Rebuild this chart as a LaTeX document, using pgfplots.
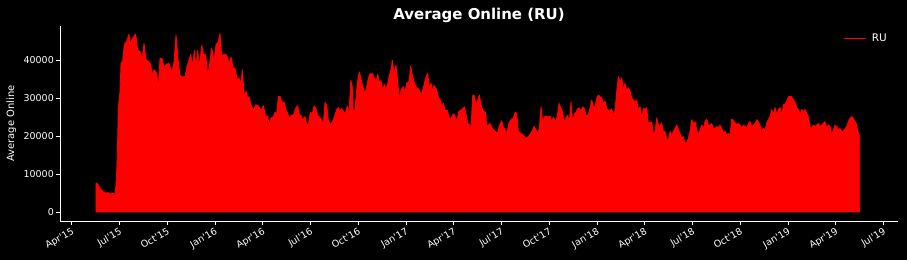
\documentclass[border=0pt]{standalone}
\usepackage{pgfplots}
\pgfplotsset{compat=1.18}
\usepackage{fontspec}
\setmainfont{DejaVu Sans}[Ligatures=TeXOff]
\begin{document}
\begin{tikzpicture}
\fill[black] (-60bp,-39bp) rectangle (847bp,221bp);
\begin{axis}[
  scale only axis, width=838bp, height=195bp,
  xmin=2.265, xmax=54.92, ymin=-2370, ymax=48950,
  axis x line*=bottom, axis y line*=left,
  axis line style={white, line width=0.6pt, -},
  tick align=outside, major tick length=4bp,
  tick style={white, line width=0.6pt},
  xtick={3,6,...,54},
  xticklabels={Apr'15,Jul'15,Oct'15,Jan'16,Apr'16,Jul'16,Oct'16,Jan'17,Apr'17,Jul'17,Oct'17,Jan'18,Apr'18,Jul'18,Oct'18,Jan'19,Apr'19,Jul'19},
  ytick={0,10000,20000,30000,40000},
  scaled y ticks=false,
  /pgf/number format/.cd, fixed, 1000 sep={}, assume math mode=true,
  /pgfplots/.cd,
  tick label style={font=\fontsize{9.5}{11}\selectfont, text=white},
  xticklabel style={rotate=30, anchor=north east, inner sep=1.5bp},
  yticklabel style={inner sep=2bp},
  ylabel={Average Online},
  ylabel shift=2bp,
  ylabel style={font=\fontsize{10}{12}\selectfont, text=white},
  title={Average Online (RU)},
  title style={font=\fontsize{15}{18}\selectfont\bfseries, text=white, yshift=-6bp},
  legend style={at={(1,1)}, anchor=north east, xshift=-6bp, yshift=-4bp, draw=none, fill=black, text=white, font=\fontsize{10.5}{12}\selectfont},
]
\addplot[draw=red, fill=red, line width=0.8pt, line join=round,
  legend image code/.code={\draw[red, line width=1.5pt] (0bp,0bp) -- (22bp,0bp); \path (26bp,0bp);}]
coordinates {
(4.527,7600)(4.621,7500)(4.778,6200)(4.986,5350)(5.155,5000)(5.281,5100)(5.407,4800)(5.595,4900)(5.721,4700)(5.784,7100)
(5.865,14200)(5.928,27400)(6.035,31700)(6.098,39100)(6.205,39700)(6.305,44100)(6.456,44900)(6.601,46800)(6.695,44000)(6.770,45300)
(6.871,46000)(7.022,46800)(7.147,42600)(7.292,42300)(7.436,40200)(7.543,44400)(7.669,40000)(7.813,39700)(7.964,38900)(8.065,36000)
(8.172,37500)(8.341,36500)(8.442,32500)(8.549,40400)(8.674,40400)(8.800,38200)(8.970,38900)(9.114,39100)(9.284,36900)(9.428,39400)
(9.554,46600)(9.680,40400)(9.805,36000)(9.931,35600)(10.120,35600)(10.226,38000)(10.352,39700)(10.478,41500)(10.603,38200)(10.704,42600)
(10.811,38200)(10.918,42600)(11.018,38200)(11.169,43900)(11.295,41300)(11.420,41500)(11.546,36000)(11.647,38400)(11.797,43200)(11.942,39700)
(12.068,44100)(12.212,44800)(12.319,47000)(12.426,40900)(12.570,41500)(12.740,41300)(12.903,39100)(13.010,40800)(13.155,37800)(13.261,37900)
(13.406,34700)(13.513,35300)(13.620,33400)(13.720,37500)(13.846,30300)(13.953,31800)(14.059,29900)(14.160,30300)(14.267,28200)(14.411,26800)
(14.562,28200)(14.726,28000)(14.895,26800)(15.040,28000)(15.191,25100)(15.316,25300)(15.398,22900)(15.524,24700)(15.668,25100)(15.775,26200)
(15.882,26000)(15.982,30300)(16.089,30500)(16.196,28900)(16.341,29000)(16.447,27000)(16.548,26200)(16.674,24700)(16.824,25500)(16.950,25600)
(17.095,27500)(17.201,28000)(17.302,25700)(17.409,25400)(17.516,24300)(17.660,25100)(17.767,23100)(17.868,22900)(17.993,26200)(18.119,25900)
(18.226,27900)(18.332,27500)(18.458,25400)(18.584,24900)(18.710,24300)(18.810,23000)(18.917,28900)(19.024,28200)(19.124,24300)(19.231,23000)
(19.338,23500)(19.438,24300)(19.545,25600)(19.652,27000)(19.753,27500)(19.860,26600)(19.966,27200)(20.067,26600)(20.174,25800)(20.318,27900)
(20.425,25600)(20.532,34700)(20.632,33000)(20.695,25600)(20.802,27300)(20.946,34000)(21.072,36900)(21.223,34300)(21.368,31700)(21.493,32100)
(21.638,35200)(21.745,36400)(21.914,36400)(22.015,35200)(22.122,34200)(22.228,36200)(22.329,34300)(22.436,34500)(22.543,32100)(22.643,33600)
(22.750,32500)(22.857,33800)(22.957,36000)(23.064,37400)(23.146,40000)(23.253,36400)(23.378,38700)(23.485,34300)(23.586,29500)(23.693,32100)
(23.837,33000)(23.944,31700)(24.051,33900)(24.195,34300)(24.302,38500)(24.403,36000)(24.510,34300)(24.635,32800)(24.742,32600)(24.843,32100)
(24.949,30800)(25.094,32700)(25.245,35300)(25.370,36600)(25.471,32600)(25.578,33900)(25.685,31700)(25.766,33300)(25.892,32600)(26.036,30300)
(26.143,29500)(26.250,28200)(26.351,28600)(26.476,26600)(26.602,26800)(26.728,24700)(26.835,24600)(26.941,25600)(27.042,25800)(27.193,23900)
(27.337,26600)(27.463,26800)(27.570,27200)(27.670,27700)(27.777,25800)(27.884,23300)(27.985,23100)(28.091,22000)(28.198,30800)(28.299,30600)
(28.405,28200)(28.512,29500)(28.613,30800)(28.720,28200)(28.826,26800)(28.927,26500)(29.015,26100)(29.065,23000)(29.116,22500)(29.178,22900)
(29.285,23300)(29.430,22000)(29.599,21300)(29.744,20700)(29.870,22700)(30.020,24000)(30.121,22300)(30.228,21900)(30.335,20600)(30.479,23500)
(30.605,24300)(30.749,24700)(30.856,26200)(30.963,26000)(31.064,21300)(31.214,20700)(31.378,20300)(31.528,19400)(31.692,19800)(31.843,20700)
(31.968,21600)(32.069,22600)(32.176,21600)(32.283,20700)(32.383,22000)(32.490,27700)(32.597,23700)(32.697,25000)(32.804,25300)(32.949,25000)
(33.056,25300)(33.162,23700)(33.263,25000)(33.414,23700)(33.514,25400)(33.621,28600)(33.747,27300)(33.853,26200)(33.954,23300)(34.061,25000)
(34.168,25400)(34.268,23700)(34.375,29000)(34.482,23700)(34.583,25900)(34.689,26200)(34.796,27200)(34.897,27200)(35.004,26800)(35.110,27700)
(35.211,27200)(35.318,25400)(35.462,25600)(35.569,27400)(35.676,29500)(35.776,27700)(35.883,27700)(35.990,29900)(36.091,30800)(36.197,30300)
(36.304,30100)(36.405,28600)(36.512,29200)(36.618,27200)(36.719,26800)(36.826,26800)(36.933,27200)(37.033,25400)(37.140,26800)(37.247,31700)
(37.347,35600)(37.454,34300)(37.561,35300)(37.662,32100)(37.768,33900)(37.875,32100)(37.976,32700)(38.083,31800)(38.189,30000)(38.290,29500)
(38.397,29000)(38.503,29500)(38.604,26800)(38.711,27800)(38.818,24500)(38.918,27300)(39.025,27000)(39.132,27500)(39.233,23300)(39.339,23600)
(39.446,23700)(39.547,20300)(39.654,21200)(39.760,24800)(39.861,23000)(39.968,22600)(40.074,23500)(40.175,21200)(40.282,21200)(40.389,19400)
(40.489,18600)(40.596,21200)(40.703,20300)(40.804,21200)(40.910,22000)(41.017,22900)(41.118,21800)(41.225,20700)(41.331,19400)(41.432,19800)
(41.539,18000)(41.645,18400)(41.746,19400)(41.853,21200)(41.960,24300)(42.060,23300)(42.167,23800)(42.274,21600)(42.375,20300)(42.481,21600)
(42.588,22900)(42.689,22000)(42.796,23800)(42.902,24500)(43.003,22900)(43.110,22900)(43.216,23300)(43.317,22000)(43.424,22000)(43.531,22500)
(43.631,22000)(43.738,22900)(43.845,22000)(43.946,20700)(44.052,21200)(44.159,20300)(44.260,20700)(44.366,20300)(44.473,24500)(44.574,24100)
(44.681,23500)(44.787,22900)(44.888,23300)(44.995,22900)(45.101,22000)(45.202,22900)(45.309,22500)(45.416,22200)(45.516,23300)(45.623,23800)
(45.730,22500)(45.831,22900)(45.937,23300)(46.044,24300)(46.145,23800)(46.252,22900)(46.358,21200)(46.459,22000)(46.566,21500)(46.672,23500)
(46.773,24300)(46.880,25100)(46.987,27000)(47.087,25600)(47.194,27500)(47.301,25600)(47.401,27000)(47.508,27500)(47.615,25600)(47.716,28200)
(47.822,28400)(47.929,29200)(48.030,30300)(48.137,30500)(48.243,30300)(48.344,29600)(48.451,28900)(48.558,27500)(48.658,27000)(48.765,25600)
(48.872,27000)(48.972,26200)(49.079,27000)(49.186,26000)(49.287,25100)(49.393,22500)(49.500,22000)(49.601,22900)(49.708,22500)(49.814,22900)
(49.915,23300)(50.022,22500)(50.129,22900)(50.229,23300)(50.336,23800)(50.443,22000)(50.543,22900)(50.650,22500)(50.757,20300)(50.857,21600)
(50.964,22900)(51.071,22500)(51.172,21600)(51.278,22000)(51.385,21200)(51.486,21200)(51.593,22000)(51.699,22500)(51.800,23800)(51.907,24700)
(52.013,25100)(52.114,24700)(52.221,23800)(52.328,22900)(52.428,20700)(52.516,20000)
} \closedcycle;
\addlegendentry{RU}
\end{axis}
\end{tikzpicture}
\end{document}
